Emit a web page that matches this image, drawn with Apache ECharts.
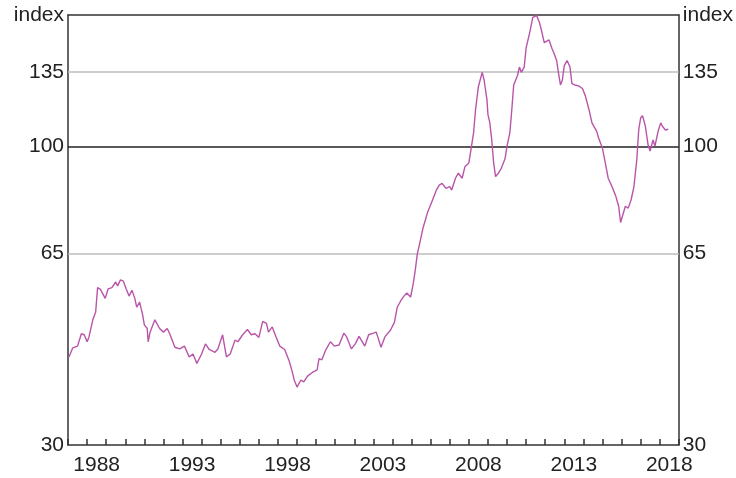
<!DOCTYPE html>
<html>
<head>
<meta charset="utf-8">
<script src="https://cdn.jsdelivr.net/npm/echarts@6/dist/echarts.min.js"></script>
<style>
  html, body { margin: 0; padding: 0; background: #fff; }
  #main { width: 736px; height: 478px; }
</style>
</head>
<body>
<div id="main"></div>
<script>
// 数据：年份（小数年）与指数值，读自原图
var years = [
  1987.05, 1987.25, 1987.5, 1987.7, 1987.85, 1988.0, 1988.1, 1988.3, 1988.45, 1988.55,
  1988.7, 1988.95, 1989.1, 1989.3, 1989.5, 1989.6, 1989.75, 1989.9, 1990.05, 1990.2,
  1990.35, 1990.5, 1990.6, 1990.75, 1990.9, 1991.0, 1991.15, 1991.2, 1991.3, 1991.55,
  1991.8, 1992.0, 1992.2, 1992.35, 1992.6, 1992.85, 1993.1, 1993.35, 1993.55, 1993.65,
  1993.75, 1994.0, 1994.2, 1994.4, 1994.7, 1994.85, 1995.1, 1995.3, 1995.5, 1995.75,
  1995.9, 1996.15, 1996.4, 1996.6, 1996.8, 1997.0, 1997.2, 1997.4, 1997.5, 1997.7,
  1997.9, 1998.1, 1998.35, 1998.6, 1998.75, 1998.85, 1999.0, 1999.2, 1999.35, 1999.55,
  1999.8, 2000.05, 2000.15, 2000.3, 2000.5, 2000.75, 2000.95, 2001.2, 2001.45, 2001.6,
  2001.85, 2002.05, 2002.25, 2002.55, 2002.75, 2003.0, 2003.15, 2003.4, 2003.6, 2003.9,
  2004.1, 2004.25, 2004.45, 2004.6, 2004.75, 2004.95, 2005.1, 2005.2, 2005.3, 2005.45,
  2005.6, 2005.85, 2006.1, 2006.3, 2006.45, 2006.6, 2006.8, 2007.0, 2007.1, 2007.3,
  2007.45, 2007.65, 2007.8, 2008.0, 2008.1, 2008.25, 2008.35, 2008.5, 2008.7, 2008.8,
  2008.95, 2009.0, 2009.1, 2009.2, 2009.3, 2009.4, 2009.55, 2009.7, 2009.9, 2010.0,
  2010.15, 2010.25, 2010.35, 2010.55, 2010.65, 2010.75, 2010.9, 2011.0, 2011.2, 2011.35,
  2011.55, 2011.7, 2011.8, 2011.95, 2012.05, 2012.2, 2012.35, 2012.45, 2012.6, 2012.7,
  2012.8, 2012.9, 2013.0, 2013.15, 2013.3, 2013.4, 2013.55, 2013.75, 2013.95, 2014.1,
  2014.3, 2014.45, 2014.7, 2014.8, 2015.0, 2015.15, 2015.3, 2015.5, 2015.7, 2015.85,
  2015.95, 2016.05, 2016.2, 2016.35, 2016.5, 2016.65, 2016.8, 2016.9, 2017.0, 2017.1,
  2017.25, 2017.4, 2017.5, 2017.65, 2017.75, 2017.9, 2018.05, 2018.15, 2018.3, 2018.45
];
var index = [
  42.8, 44.4, 44.7, 47.0, 46.8, 45.5, 46.4, 49.7, 51.3, 56.6,
  56.2, 54.2, 56.3, 56.6, 57.9, 57.0, 58.4, 58.1, 56.3, 54.7,
  56.0, 54.2, 52.3, 53.4, 50.9, 48.7, 48.0, 45.5, 47.3, 49.7,
  48.0, 47.3, 48.0, 46.8, 44.5, 44.2, 44.7, 42.8, 43.3, 42.5,
  41.7, 43.3, 45.1, 44.1, 43.6, 44.2, 46.8, 42.8, 43.3, 45.8,
  45.5, 46.8, 47.8, 46.8, 47.0, 46.3, 49.4, 49.0, 47.3, 48.3,
  46.4, 44.7, 44.1, 42.0, 40.3, 39.0, 37.9, 39.0, 38.7, 39.6,
  40.2, 40.6, 42.5, 42.3, 44.0, 45.5, 44.7, 44.9, 47.1, 46.4,
  44.2, 45.1, 46.5, 44.7, 46.8, 47.1, 47.3, 44.5, 46.4, 47.7,
  49.2, 52.3, 53.8, 54.7, 55.4, 54.5, 57.8, 61.0, 64.8, 68.2,
  72.0, 76.9, 80.6, 83.9, 85.6, 86.2, 84.5, 85.1, 83.9, 88.0,
  89.8, 88.0, 92.3, 93.6, 98.2, 105.8, 115.9, 127.3, 134.9, 130.8,
  120.7, 113.9, 110.0, 102.7, 93.6, 88.6, 89.8, 91.6, 95.3, 100.2,
  105.8, 115.9, 128.2, 133.2, 137.8, 134.9, 137.8, 148.7, 159.0, 168.4,
  169.6, 165.0, 160.0, 152.1, 153.1, 153.7, 148.7, 146.0, 141.5, 134.3,
  128.2, 130.8, 138.6, 141.5, 137.8, 128.9, 128.2, 127.7, 126.4, 122.8,
  115.9, 110.0, 106.3, 103.5, 99.3, 93.6, 88.0, 85.1, 81.8, 78.6,
  73.6, 73.6, 78.6, 78.0, 80.6, 85.1, 94.8, 106.9, 112.2, 113.3,
  108.4, 100.2, 98.2, 102.7, 100.2, 105.8, 110.0, 108.4, 106.9, 107.2
];
var yTicks = [30, 65, 100, 135];
var xLabelYears = [1988, 1993, 1998, 2003, 2008, 2013, 2018];

var seriesData = [];
for (var i = 0, num = years.length; i < num; i++) {
  seriesData.push([years[i], index[i]]);
}

var FONT = 'Liberation Sans, Arial, sans-serif';
var TXT = '#222';
var AXIS = '#333';

var chart = echarts.init(document.getElementById('main'));

function yAxisOpt(pos) {
  return {
    type: 'log',
    logBase: 10,
    position: pos,
    min: 30,
    max: 170,
    name: 'index',
    nameLocation: 'end',
    nameGap: 0,
    nameTextStyle: {
      color: TXT, fontFamily: FONT, fontSize: 21,
      align: pos === 'left' ? 'right' : 'left',
      verticalAlign: 'middle',
      padding: pos === 'left' ? [0, 4, 0, 0] : [0, 0, 0, 4]
    },
    axisLine: { show: true, lineStyle: { color: AXIS, width: 1.5 } },
    axisTick: { show: false },
    splitLine: { show: false },
    axisLabel: {
      customValues: yTicks,
      color: TXT, fontFamily: FONT, fontSize: 21, margin: 4,
      formatter: function (v) { return Math.round(v); }
    }
  };
}

chart.setOption({
  animation: false,
  grid: { left: 68, right: 56, top: 15, bottom: 33, containLabel: false },
  xAxis: [{
    type: 'value',
    min: 1987,
    max: 2019,
    interval: 1,
    position: 'bottom',
    axisLine: { show: true, onZero: false, lineStyle: { color: AXIS, width: 1.5 } },
    axisTick: { show: true, inside: true, length: 6, lineStyle: { color: AXIS, width: 1.5 } },
    splitLine: { show: false },
    axisLabel: {
      customValues: xLabelYears.map(function (y) { return y + 0.5; }),
      color: TXT, fontFamily: FONT, fontSize: 21, margin: 10,
      formatter: function (v) { return Math.floor(v); }
    }
  }, {
    type: 'value',
    min: 1987,
    max: 2019,
    position: 'top',
    axisLine: { show: true, onZero: false, lineStyle: { color: AXIS, width: 1.5 } },
    axisTick: { show: false },
    axisLabel: { show: false },
    splitLine: { show: false }
  }],
  yAxis: [yAxisOpt('left'), yAxisOpt('right')],
  series: [{
    type: 'line',
    xAxisIndex: 0,
    yAxisIndex: 0,
    data: seriesData,
    showSymbol: false,
    smooth: false,
    lineStyle: { color: '#b955a8', width: 1.4 },
    z: 3,
    markLine: {
      silent: true,
      symbol: 'none',
      label: { show: false },
      z: 1,
      data: [
        { yAxis: 135, lineStyle: { color: '#bdbdbd', width: 1.5, type: 'solid' } },
        { yAxis: 100, lineStyle: { color: '#222', width: 1.5, type: 'solid' } },
        { yAxis: 65, lineStyle: { color: '#bdbdbd', width: 1.5, type: 'solid' } }
      ]
    }
  }]
});
</script>
</body>
</html>
